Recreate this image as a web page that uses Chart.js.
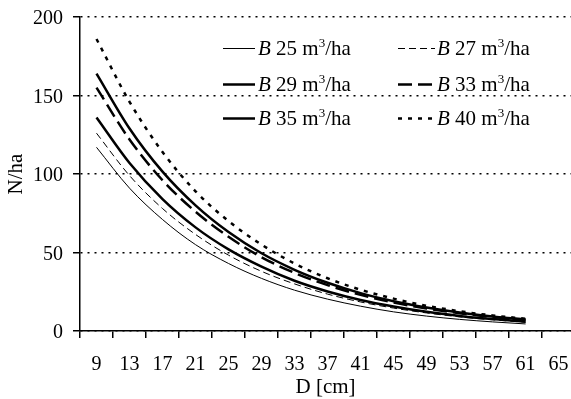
<!DOCTYPE html>
<html>
<head>
<meta charset="utf-8">
<script src="https://cdn.jsdelivr.net/npm/chart.js@4/dist/chart.umd.min.js"></script>
<style>
  html, body { margin: 0; padding: 0; background: #fff; overflow: hidden; }
  #wrap { position: relative; width: 571px; height: 399px; }
  .lg { position: absolute; font-family: "Liberation Serif", "Times New Roman", serif; font-size: 21px; color: #000; white-space: nowrap; line-height: 22px; }
  .lg svg { position: absolute; top: 0; }
  .lg span { position: absolute; top: 0; }
  .lg sup { font-size: 13px; vertical-align: 0; position: relative; top: -8px; }
</style>
</head>
<body>
<div id="wrap">
  <canvas id="c" width="571" height="399"></canvas>
  <div id="legend"></div>
</div>
<script>
// ---- data ----
const xTickLabels = [9, 13, 17, 21, 25, 29, 33, 37, 41, 45, 49, 53, 57, 61, 65];
const diameters   = [9, 13, 17, 21, 25, 29, 33, 37, 41, 45, 49, 53, 57, 61];
const yTickValues = [0, 50, 100, 150, 200];
const seriesNames = ["25", "27", "29", "33", "35", "40"];
const b25 = [117, 91, 71, 55, 43, 33.5, 26, 20.3, 15.8, 12.2, 9.5, 7.4, 5.8, 4.5];
const b27 = [126, 99, 78, 61.5, 48.3, 38, 30, 23.5, 18.5, 14.6, 11.5, 9, 7.1, 5.6];
const b29 = [136, 107, 84, 66, 52, 41, 32, 25.2, 19.8, 15.6, 12.2, 9.6, 7.6, 5.9];
const b33 = [155, 122, 96, 76, 60, 47, 37, 29.2, 23, 18.1, 14.3, 11.3, 8.9, 7];
const b35 = [164, 129, 101.5, 80, 63, 49.5, 39, 30.7, 24.1, 19, 15, 11.8, 9.3, 7.3];
const b40 = [186, 146, 114, 89, 70, 55, 43, 33.6, 26.3, 20.6, 16.1, 12.6, 9.9, 7.8];
const seriesValues = [b25, b27, b29, b33, b35, b40];

// ---- styles ----
const styles = [
  { width: 1,   dash: [] },
  { width: 1,   dash: [7, 4] },
  { width: 2.5, dash: [] },
  { width: 2.5, dash: [14, 6] },
  { width: 2.5, dash: [] },
  { width: 2.5, dash: [4, 6] }
];

const FONT = "'Liberation Serif', 'Times New Roman', serif";
Chart.defaults.font.family = FONT;
Chart.defaults.color = '#000';

const datasets = seriesValues.map((vals, i) => ({
  label: 'B ' + seriesNames[i] + ' m³/ha',
  data: vals.map((v, j) => ({ x: diameters[j], y: v })),
  borderColor: '#000',
  backgroundColor: '#000',
  borderWidth: styles[i].width,
  borderDash: styles[i].dash,
  pointRadius: 0,
  fill: false,
  cubicInterpolationMode: 'monotone'
}));

new Chart(document.getElementById('c'), {
  type: 'line',
  data: { datasets },
  options: {
    responsive: false,
    animation: false,
    layout: { padding: { top: 17, right: 0, left: 0, bottom: 0 } },
    plugins: { legend: { display: false }, tooltip: { enabled: false } },
    scales: {
      x: {
        type: 'linear',
        min: 7,
        max: 66.5,
        afterBuildTicks: (s) => { s.ticks = xTickLabels.map(v => ({ value: v })); },
        afterFit: (s) => { s.height = 68; s.paddingLeft = 0; s.paddingRight = 0; },
        ticks: { font: { size: 20 }, padding: 15, maxRotation: 0, autoSkip: false, color: '#000' },
        grid: { display: true, drawOnChartArea: false, offset: true, tickLength: 7, color: '#000', lineWidth: 1.5 },
        border: { display: true, color: '#000', width: 1.5 },
        title: { display: true, text: 'D [cm]', font: { size: 21, lineHeight: 1.1 }, padding: { top: 0, bottom: 0 }, color: '#000' }
      },
      y: {
        min: 0,
        max: 200,
        afterBuildTicks: (s) => { s.ticks = yTickValues.map(v => ({ value: v })); },
        afterFit: (s) => { s.width = 80; s.paddingTop = 0; s.paddingBottom = 0; },
        ticks: { font: { size: 20 }, padding: 10, labelOffset: 2, color: '#000' },
        grid: { display: true, drawOnChartArea: true, tickLength: 7, color: '#000', lineWidth: 1.5, tickBorderDash: [], tickColor: '#000' },
        border: { display: true, color: '#000', width: 1.5, dash: [2, 5] },
        title: { display: true, text: 'N/ha', font: { size: 21 }, padding: { top: 4, bottom: 4 }, color: '#000' }
      }
    }
  }
});

// ---- HTML legend (inside the plot, 2 columns x 3 rows) ----
const legendPos = [
  { lx: 223, lw: 32, tx: 258, y: 37 },
  { lx: 398, lw: 37, tx: 437, y: 37 },
  { lx: 223, lw: 32, tx: 258, y: 73 },
  { lx: 398, lw: 37, tx: 437, y: 73 },
  { lx: 223, lw: 32, tx: 258, y: 107 },
  { lx: 398, lw: 37, tx: 437, y: 107 }
];
const lg = document.getElementById('legend');
seriesNames.forEach((name, i) => {
  const p = legendPos[i];
  const st = styles[i];
  const d = document.createElement('div');
  d.className = 'lg';
  d.style.left = p.lx + 'px';
  d.style.top = p.y + 'px';
  const dashAttr = st.dash.length ? ` stroke-dasharray="${st.dash.join(',')}"` : '';
  d.innerHTML = `<svg width="${p.lw}" height="22" style="left:0"><line x1="0" y1="11.5" x2="${p.lw}" y2="11.5" stroke="#000" stroke-width="${st.width}"${dashAttr}/></svg>` +
    `<span style="left:${p.tx - p.lx}px"><i>B</i> ${name} m<sup>3</sup>/ha</span>`;
  lg.appendChild(d);
});
</script>
</body>
</html>
